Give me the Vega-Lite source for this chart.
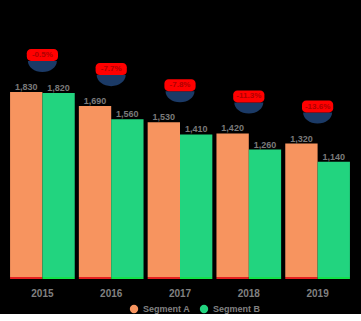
{
  "$schema": "https://vega.github.io/schema/vega-lite/v6.json",
  "width": 344,
  "height": 272,
  "padding": {"left": 8, "right": 9, "top": 5, "bottom": 0},
  "background": "black",
  "config": {"view": {"stroke": null}, "font": "Liberation Sans"},
  "datasets": {
    "bars": [
      {"year": "2015", "series": "Segment A", "value": 1830},
      {"year": "2015", "series": "Segment B", "value": 1820},
      {"year": "2016", "series": "Segment A", "value": 1690},
      {"year": "2016", "series": "Segment B", "value": 1560},
      {"year": "2017", "series": "Segment A", "value": 1530},
      {"year": "2017", "series": "Segment B", "value": 1410},
      {"year": "2018", "series": "Segment A", "value": 1420},
      {"year": "2018", "series": "Segment B", "value": 1260},
      {"year": "2019", "series": "Segment A", "value": 1320},
      {"year": "2019", "series": "Segment B", "value": 1140}
    ],
    "badges": [
      {"year": "2015", "top": 1830, "change": "-0.5%"},
      {"year": "2016", "top": 1690, "change": "-7.7%"},
      {"year": "2017", "top": 1530, "change": "-7.8%"},
      {"year": "2018", "top": 1420, "change": "-11.3%"},
      {"year": "2019", "top": 1320, "change": "-13.6%"}
    ]
  },
  "encoding": {
    "x": {
      "field": "year",
      "type": "nominal",
      "title": null,
      "scale": {"paddingInner": 0.06, "paddingOuter": 0.03},
      "axis": {
        "domain": false,
        "ticks": false,
        "labelAngle": 0,
        "labelPadding": 11,
        "labelFontSize": 10,
        "labelFontWeight": "bold",
        "labelColor": "#808080"
      }
    }
  },
  "layer": [
    {
      "data": {"name": "bars"},
      "mark": {"type": "bar"},
      "encoding": {
        "xOffset": {"field": "series"},
        "y": {"field": "value", "type": "quantitative", "scale": {"domain": [0, 2690], "nice": false}, "axis": null},
        "color": {
          "field": "series",
          "type": "nominal",
          "scale": {"range": ["#F7945F", "#22D47F"]},
          "legend": {
            "title": null,
            "orient": "none",
            "legendX": 121,
            "legendY": 299,
            "direction": "horizontal",
            "symbolType": "circle",
            "symbolSize": 70,
            "labelColor": "#808080",
            "labelFontSize": 9,
            "labelFontWeight": "bold",
            "columnPadding": 8
          }
        }
      }
    },
    {
      "data": {"name": "bars"},
      "mark": {"type": "bar"},
      "encoding": {
        "xOffset": {"field": "series"},
        "y": {"datum": 0, "type": "quantitative"},
        "y2": {"datum": -20},
        "color": {"condition": {"test": "datum.series === 'Segment A'", "value": "#E42020"}, "value": "#12E24A"}
      }
    },
    {
      "data": {"name": "bars"},
      "mark": {"type": "text", "dy": -5, "baseline": "middle", "fontSize": 9, "fontWeight": "bold", "color": "#7A7A7A"},
      "encoding": {
        "xOffset": {"field": "series"},
        "y": {"field": "value", "type": "quantitative"},
        "text": {"field": "value", "type": "quantitative", "format": ","}
      }
    },
    {
      "data": {"name": "badges"},
      "mark": {"type": "point", "shape": "M-1,0A1,0.76 0 0 0 1,0Z", "filled": true, "opacity": 1, "color": "#1B3A66", "size": 841, "yOffset": -31},
      "encoding": {
        "y": {"field": "top", "type": "quantitative"}
      }
    },
    {
      "data": {"name": "badges"},
      "mark": {"type": "point", "shape": "M-1.9,-1H1.9A0.7,0.7 0 0 1 2.6,-0.3V0.3A0.7,0.7 0 0 1 1.9,1H-1.9A0.7,0.7 0 0 1 -2.6,0.3V-0.3A0.7,0.7 0 0 1 -1.9,-1Z", "filled": true, "opacity": 1, "color": "#FF0000", "size": 144, "yOffset": -37},
      "encoding": {
        "y": {"field": "top", "type": "quantitative"}
      }
    },
    {
      "data": {"name": "badges"},
      "mark": {"type": "text", "dy": -37, "baseline": "middle", "fontSize": 8, "fontWeight": "bold", "color": "#B00000"},
      "encoding": {
        "y": {"field": "top", "type": "quantitative"},
        "text": {"field": "change"}
      }
    }
  ]
}
